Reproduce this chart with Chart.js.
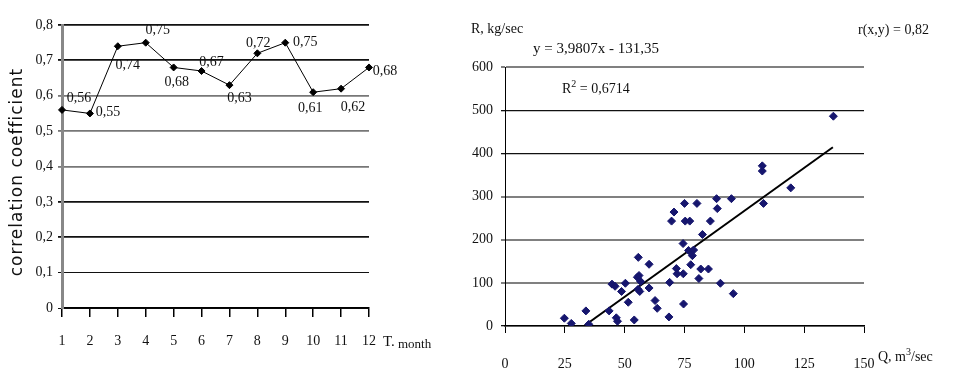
<!DOCTYPE html>
<html>
<head>
    <script src="https://cdn.jsdelivr.net/npm/chart.js@4"></script>
    <style>
        body { margin: 0; background: #fff; }
        #corrChart { position: absolute; left: 0; top: 0; }
        #flowChart { position: absolute; left: 470px; top: 0; }
    </style>
</head>
<body>
<canvas id="corrChart" width="470" height="386"></canvas>
<canvas id="flowChart" width="486" height="386"></canvas>

<script>
    // left chart: correlation coefficient by month
    const months = ['1', '2', '3', '4', '5', '6', '7', '8', '9', '10', '11', '12'];
    const corrValues = [0.56, 0.55, 0.74, 0.75, 0.68, 0.67, 0.63, 0.72, 0.75, 0.61, 0.62, 0.68];
    const corrTicks = [0, 0.1, 0.2, 0.3, 0.4, 0.5, 0.6, 0.7, 0.8];

    // right chart: sediment discharge R vs water discharge Q
    const qValues = [24.8, 27.7, 33.8, 35, 43.5, 44.7, 46, 46.5, 47, 48.7, 50.3, 51.5, 54, 55.7, 55.3, 56,
        55.6, 56.3, 56.7, 60.2, 60.2, 62.7, 63.6, 68.5, 68.8, 69.6, 70.6, 71.6, 71.9, 74.4, 74.5, 74.6,
        75, 75.3, 77.2, 77.6, 76.7, 78.3, 78.8, 80.2, 81, 81.8, 82.5, 85, 85.8, 88.4, 88.7, 90, 94.6,
        95.4, 108, 119.4, 107.5, 107.5, 137.2];
    const rValues = [18, 6, 35, 4, 35, 97, 92, 19, 11, 80, 99, 55, 14, 159, 113, 117,
        85, 80, 103, 143, 88, 59, 41, 21, 101, 243, 264, 133, 121, 191, 121, 51,
        284, 243, 243, 142, 175, 163, 176, 284, 110, 132, 212, 132, 243, 295, 272, 99, 295,
        75, 284, 320, 371, 359, 486];
    const trendQ = [33, 137];
    const trendR = [0, 414];

    // label placement for the left chart (offset of label centre from its point)
    const labelOffsets = [[17, -12], [18, -1], [10, 19], [12, -12], [3, 15], [10, -9],
        [10, 13], [1, -10], [20, 0], [-3, 16], [12, 19], [16, 4]];

    const serif = '"Liberation Serif", "Times New Roman", serif';

    function comma(v, d) {
        return v.toFixed(d).replace('.', ',');
    }

    const corrLabels = {
        id: 'corrLabels',
        afterDatasetsDraw(chart) {
            const ctx = chart.ctx;
            const meta = chart.getDatasetMeta(0);
            ctx.save();
            ctx.font = '14px ' + serif;
            ctx.fillStyle = '#111';
            ctx.textAlign = 'center';
            ctx.textBaseline = 'middle';
            meta.data.forEach((pt, i) => {
                ctx.fillText(comma(corrValues[i], 2), pt.x + labelOffsets[i][0], pt.y + labelOffsets[i][1]);
            });
            ctx.restore();
        },
        afterDraw(chart) {
            const ctx = chart.ctx;
            ctx.save();
            ctx.fillStyle = '#111';
            // axis unit after last tick
            ctx.font = '15px ' + serif;
            ctx.textBaseline = 'alphabetic';
            ctx.fillText('T.', 383, 346);
            ctx.font = '13px ' + serif;
            ctx.fillText('month', 398, 348);
            // y title
            ctx.translate(18, 172);
            ctx.rotate(-Math.PI / 2);
            ctx.font = '17px "DejaVu Sans", sans-serif';
            ctx.letterSpacing = '1px';
            ctx.textAlign = 'center';
            ctx.textBaseline = 'middle';
            ctx.fillText('correlation coefficient', 0, 0);
            ctx.restore();
        }
    };

    new Chart(document.getElementById('corrChart'), {
        type: 'line',
        data: {
            labels: months,
            datasets: [{
                data: corrValues,
                borderColor: '#000',
                borderWidth: 1,
                backgroundColor: '#000',
                pointStyle: 'rectRot',
                pointRadius: 3.5,
                tension: 0
            }]
        },
        options: {
            responsive: false,
            animation: false,
            layout: {padding: {top: 25, right: 101, left: 0, bottom: 0}},
            plugins: {legend: {display: false}, tooltip: {enabled: false}},
            scales: {
                x: {
                    offset: false,
                    afterFit: s => { s.height = 78; },
                    grid: {drawOnChartArea: false, drawTicks: true, tickLength: 9, color: '#000', lineWidth: 1.5},
                    border: {display: true, color: '#000', width: 1.5},
                    ticks: {font: {family: serif, size: 14}, color: '#111', padding: 16, maxRotation: 0}
                },
                y: {
                    min: 0,
                    max: 0.8,
                    afterFit: s => { s.width = 62; },
                    afterBuildTicks: s => { s.ticks = corrTicks.map(v => ({value: v})); },
                    grid: {
                        color: c => (c.tick && c.tick.value > 0.35 && c.tick.value < 0.65) ? '#777' : '#111',
                        lineWidth: c => (c.tick && c.tick.value < 0.15) ? 1 : 1.8,
                        tickLength: 4
                    },
                    border: {display: true, color: '#888', width: 3},
                    ticks: {
                        font: {family: serif, size: 14},
                        color: '#111',
                        padding: 5,
                        callback: v => v === 0 ? '0' : comma(v, 1)
                    }
                }
            }
        },
        plugins: [corrLabels]
    });

    function drawSup(ctx, parts, x, y) {
        // parts: [text, isSuperscript]
        parts.forEach(([t, sup]) => {
            ctx.font = (sup ? '10px ' : '14px ') + serif;
            ctx.fillText(t, x, sup ? y - 6 : y);
            x += ctx.measureText(t).width;
        });
    }

    const flowText = {
        id: 'flowText',
        afterDraw(chart) {
            const ctx = chart.ctx;
            ctx.save();
            ctx.fillStyle = '#111';
            ctx.textBaseline = 'alphabetic';
            ctx.font = '14px ' + serif;
            ctx.fillText('R, kg/sec', 1, 33);
            ctx.fillText('r(x,y) = 0,82', 388, 34);
            ctx.font = '15px ' + serif;
            ctx.fillText('y = 3,9807x - 131,35', 63, 53);
            drawSup(ctx, [['R', false], ['2', true], [' = 0,6714', false]], 92, 93);
            drawSup(ctx, [['Q, m', false], ['3', true], ['/sec', false]], 408, 361);
            ctx.restore();
        }
    };

    const gridGray = [100, 200, 300, 600];

    new Chart(document.getElementById('flowChart'), {
        type: 'scatter',
        data: {
            datasets: [
                {
                    data: qValues.map((q, i) => ({x: q, y: rValues[i]})),
                    backgroundColor: '#16166e',
                    borderColor: '#16166e',
                    pointStyle: 'rectRot',
                    pointRadius: 4
                },
                {
                    type: 'line',
                    data: trendQ.map((q, i) => ({x: q, y: trendR[i]})),
                    borderColor: '#000',
                    borderWidth: 2,
                    pointRadius: 0
                }
            ]
        },
        options: {
            responsive: false,
            animation: false,
            layout: {padding: {top: 67, right: 92, left: 0, bottom: 0}},
            plugins: {legend: {display: false}, tooltip: {enabled: false}},
            scales: {
                x: {
                    type: 'linear',
                    min: 0,
                    max: 150,
                    afterFit: s => { s.height = 60; },
                    ticks: {stepSize: 25, font: {family: serif, size: 14}, color: '#111', padding: 23, maxRotation: 0},
                    grid: {drawOnChartArea: false, tickLength: 7, color: '#000', lineWidth: 1},
                    border: {display: true, color: '#000', width: 1.5}
                },
                y: {
                    min: 0,
                    max: 600,
                    afterFit: s => { s.width = 35; },
                    ticks: {stepSize: 100, font: {family: serif, size: 14}, color: '#111', padding: 8},
                    grid: {
                        color: c => (c.tick && gridGray.includes(c.tick.value)) ? '#808080' : '#111',
                        lineWidth: c => (c.tick && gridGray.includes(c.tick.value)) ? 2 : 1.3,
                        tickLength: 4
                    },
                    border: {display: true, color: '#000', width: 1}
                }
            }
        },
        plugins: [flowText]
    });
</script>
</body>
</html>
